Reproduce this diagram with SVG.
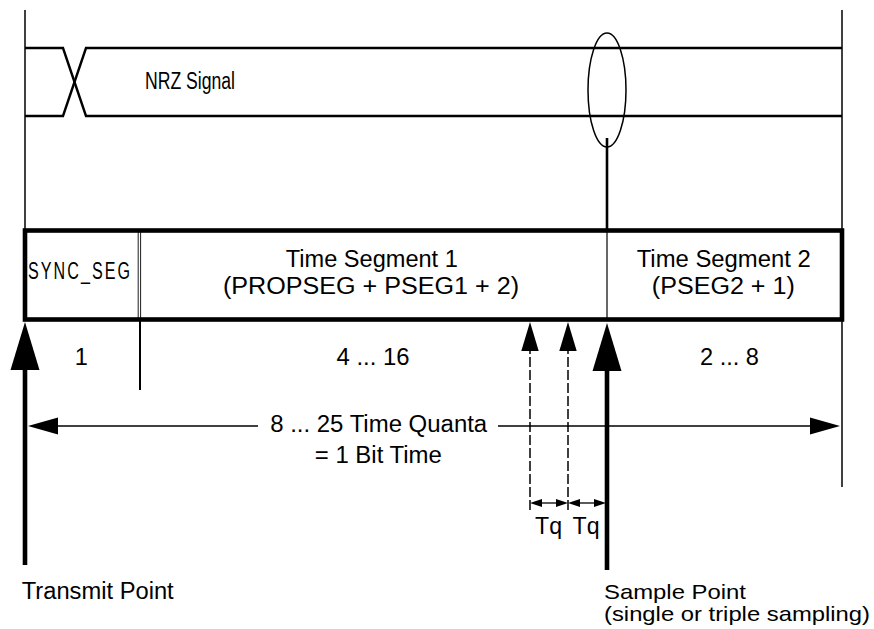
<svg xmlns="http://www.w3.org/2000/svg" width="874" height="629" viewBox="0 0 874 629">
<style>
text { font-family: "Liberation Sans", Arial, Helvetica, sans-serif; font-size: 23.5px; fill: #000; }
.thin { stroke: #000; stroke-width: 1.5; fill: none; }
.sig { stroke: #000; stroke-width: 2.4; fill: none; }
.dim { stroke: #000; stroke-width: 1.3; fill: none; }
.dash { stroke: #000; stroke-width: 1.5; stroke-dasharray: 10 3; fill: none; }
.heavy { stroke: #000; stroke-width: 4.6; fill: none; }
.mid { text-anchor: middle; }
.small { font-size: 21px; }
</style>
<defs>
<marker id="bigHead" markerUnits="userSpaceOnUse" markerWidth="30" markerHeight="17" refX="0" refY="8.5" orient="auto" overflow="visible">
<path d="M0,0 L30,8.5 L0,17 z" fill="#000"/>
</marker>
<marker id="tqHead" markerUnits="userSpaceOnUse" markerWidth="12" markerHeight="8" refX="0" refY="4" orient="auto-start-reverse" overflow="visible">
<path d="M0,0 L12,4 L0,8 z" fill="#000"/>
</marker>
<marker id="midHead" markerUnits="userSpaceOnUse" markerWidth="29" markerHeight="17.4" refX="0" refY="8.7" orient="auto" overflow="visible">
<path d="M0,0 L29,8.7 L0,17.4 z" fill="#000"/>
</marker>
<marker id="heavyHead" markerUnits="userSpaceOnUse" markerWidth="48" markerHeight="29" refX="0" refY="14.5" orient="auto" overflow="visible">
<path d="M0,0 L48,14.5 L0,29 z" fill="#000"/>
</marker>
</defs>

<g id="frame">
<line class="thin" x1="25" y1="10" x2="25" y2="231"/>
<line class="thin" x1="842" y1="10" x2="842" y2="487"/>
</g>

<g id="nrz-signal">
<polyline class="sig" points="25,48 63,48 86,116 842,116"/>
<polyline class="sig" points="25,116 63,116 86,48 842,48"/>
<text x="145" y="89" font-size="23" textLength="90" lengthAdjust="spacingAndGlyphs">NRZ Signal</text>
</g>

<g id="sample-marker">
<ellipse class="thin" cx="607" cy="90" rx="19" ry="57"/>
<line stroke="#000" stroke-width="2.6" x1="607" y1="138" x2="607" y2="231"/>
</g>

<g id="bit-time-box">
<rect x="25" y="230.5" width="817" height="89" fill="#fff" stroke="#000" stroke-width="4.6"/>
</g>

<g id="sync-seg">
<line stroke="#000" stroke-width="0.9" x1="138.2" y1="232" x2="138.2" y2="318"/>
<line stroke="#000" stroke-width="0.9" x1="140.6" y1="232" x2="140.6" y2="318"/>
<line stroke="#000" stroke-width="2" x1="140" y1="321" x2="140" y2="390"/>
<text x="28" y="279" font-size="22.5" textLength="104" lengthAdjust="spacingAndGlyphs" letter-spacing="3">SYNC_SEG</text>
<text class="mid" x="81.3" y="365">1</text>
</g>

<g id="time-segment-1">
<text class="mid" x="371.8" y="267" textLength="172" lengthAdjust="spacingAndGlyphs">Time Segment 1</text>
<text class="mid" x="371" y="294" textLength="296" lengthAdjust="spacingAndGlyphs">(PROPSEG + PSEG1 + 2)</text>
<text class="mid" x="373" y="365" textLength="73" lengthAdjust="spacingAndGlyphs">4 ... 16</text>
</g>

<g id="time-segment-2">
<line stroke="#000" stroke-width="1.2" x1="607" y1="232" x2="607" y2="318"/>
<text class="mid" x="723.7" y="267" textLength="174" lengthAdjust="spacingAndGlyphs">Time Segment 2</text>
<text class="mid" x="723.3" y="294" textLength="143" lengthAdjust="spacingAndGlyphs">(PSEG2 + 1)</text>
<text class="mid" x="729.5" y="365" textLength="59" lengthAdjust="spacingAndGlyphs">2 ... 8</text>
</g>

<g id="bit-time-label">
<text class="mid" x="378.7" y="432" textLength="217" lengthAdjust="spacingAndGlyphs">8 ... 25 Time Quanta</text>
<text class="mid" x="378.3" y="463" textLength="127" lengthAdjust="spacingAndGlyphs">= 1 Bit Time</text>
</g>

<g id="transmit-point">
<text x="21.7" y="599" textLength="152" lengthAdjust="spacingAndGlyphs">Transmit Point</text>
</g>

<g id="sample-point">
<text class="small" x="604" y="598.5" textLength="142" lengthAdjust="spacingAndGlyphs">Sample Point</text>
<text class="small" x="604" y="621" textLength="266" lengthAdjust="spacingAndGlyphs">(single or triple sampling)</text>
</g>

<g id="tq-labels">
<text x="535" y="534" textLength="27" lengthAdjust="spacingAndGlyphs">Tq</text>
<text x="572.5" y="534" textLength="27" lengthAdjust="spacingAndGlyphs">Tq</text>
</g>

<g id="connectors">
<line class="heavy" x1="25" y1="565" x2="25" y2="370" marker-end="url(#heavyHead)"/>
<line class="heavy" x1="607" y1="570" x2="607" y2="371" marker-end="url(#heavyHead)"/>
<line class="dash" x1="530" y1="510" x2="530" y2="351" marker-end="url(#midHead)"/>
<line class="dash" x1="568" y1="510" x2="568" y2="351" marker-end="url(#midHead)"/>
<line class="dim" x1="258" y1="426" x2="58" y2="426" marker-end="url(#bigHead)"/>
<line class="dim" x1="498" y1="426" x2="810" y2="426" marker-end="url(#bigHead)"/>
<line class="dim" x1="542" y1="503" x2="556" y2="503" marker-start="url(#tqHead)" marker-end="url(#tqHead)"/>
<line class="dim" x1="580" y1="503" x2="594" y2="503" marker-start="url(#tqHead)" marker-end="url(#tqHead)"/>
</g>
</svg>
